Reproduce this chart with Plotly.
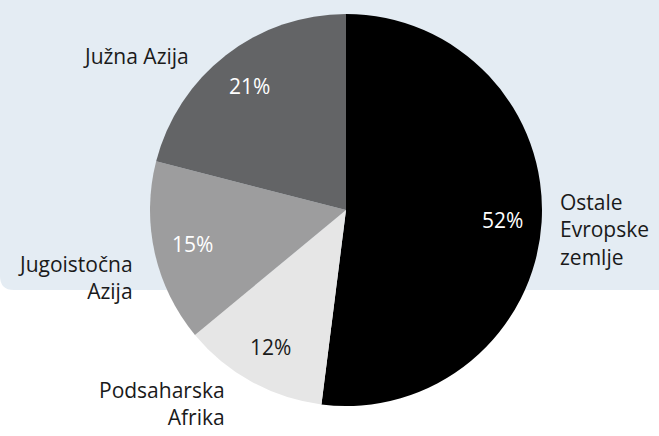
import math
import plotly.graph_objects as go

categories = ["Ostale Evropske zemlje", "Podsaharska Afrika", "Jugoistočna Azija", "Južna Azija"]
values = [52, 12, 15, 21]
colors = ["#000000", "#e6e6e6", "#9d9d9e", "#636466"]
text_colors = ["#ffffff", "#1a1a1a", "#ffffff", "#ffffff"]
label_texts = ["Ostale<br>Evropske<br>zemlje", "Podsaharska<br>Afrika", "Jugoistočna<br>Azija", "Južna Azija"]

W, H = 659, 436
FONT = "Open Sans"
CX, CY, R = 346, 210, 196  # pie placement in pixels

fig = go.Figure()
fig.add_trace(go.Pie(
    values=values,
    labels=categories,
    sort=False,
    direction="clockwise",
    rotation=0,
    marker=dict(colors=colors, line=dict(width=0)),
    textinfo="none",
    hoverinfo="label+percent",
    domain=dict(x=[(CX - R) / W, (CX + R) / W], y=[(H - CY - R) / H, (H - CY + R) / H]),
    showlegend=False,
))

# background panel with rounded bottom-left corner
yb = 1 - 290 / H
rc = 14
path = (f"M 0 1 L 1 1 L 1 {yb} L {rc / W} {yb} "
        f"Q 0 {yb} 0 {yb + rc / H} Z")
fig.add_shape(type="path", path=path, xref="paper", yref="paper",
              fillcolor="#e4ecf3", line=dict(width=0), layer="below")

# percentage labels placed at each slice's mid-angle
total = sum(values)
cum = 0
for v, tc in zip(values, text_colors):
    mid = (cum + v / 2) / total * 2 * math.pi
    cum += v
    rr = 0.8 * R
    px = CX + rr * math.sin(mid)
    py = CY - rr * math.cos(mid)
    fig.add_annotation(text=f"{round(v / total * 100)}%", x=px / W, y=1 - py / H,
                       xref="paper", yref="paper", xanchor="center", yanchor="middle",
                       showarrow=False, font=dict(family=FONT, size=21, color=tc))

# category labels: anchor x, block middle y, anchor side
label_pos = [
    (558, 230, "left"),
    (227, 403, "right"),
    (135, 277, "right"),
    (136, 56.5, "center"),
]
for txt, (x, y, anchor) in zip(label_texts, label_pos):
    fig.add_annotation(text=txt, x=x / W, y=1 - y / H, xref="paper", yref="paper",
                       xanchor=anchor, yanchor="middle", align=anchor if anchor != "center" else "center",
                       showarrow=False, font=dict(family=FONT, size=21, color="#1a1a1a"))

fig.update_layout(
    width=W, height=H,
    margin=dict(l=0, r=0, t=0, b=0),
    paper_bgcolor="#ffffff",
    plot_bgcolor="#ffffff",
)

fig.write_html("out.html", config={"displayModeBar": False},
               post_script="document.body.style.margin='0';")
